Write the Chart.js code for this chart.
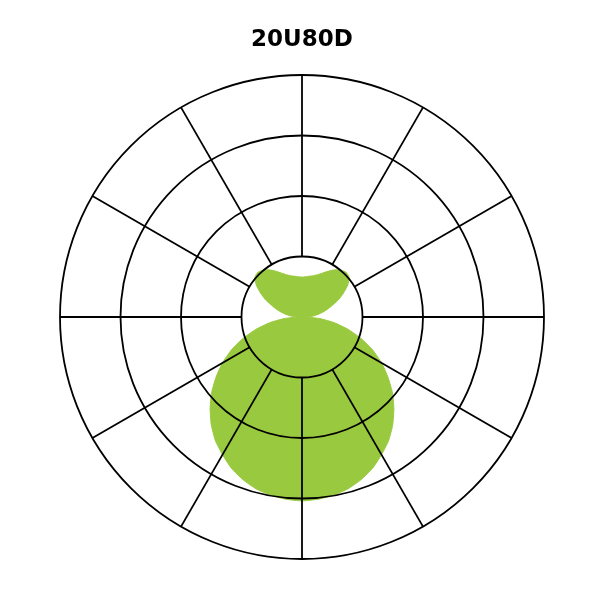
<!DOCTYPE html>
<html>
<head>
<meta charset="utf-8">
<script src="https://cdn.jsdelivr.net/npm/chart.js@4/dist/chart.umd.min.js"></script>
<style>
    html, body { margin: 0; padding: 0; background: #fff; }
    #grafico { width: 601px; height: 601px; }
</style>
</head>
<body>
<div id="grafico"><canvas id="polar"></canvas></div>
<script>
// angulos a cada 5 graus, 0 = para baixo
var angulos = [
    0, 5, 10, 15, 20, 25, 30, 35, 40, 45, 50, 55, 60, 65, 70, 75, 80, 85,
    90, 95, 100, 105, 110, 115, 120, 125, 130, 135, 140, 145, 150, 155, 160, 165, 170, 175,
    180, 185, 190, 195, 200, 205, 210, 215, 220, 225, 230, 235, 240, 245, 250, 255, 260, 265,
    270, 275, 280, 285, 290, 295, 300, 305, 310, 315, 320, 325, 330, 335, 340, 345, 350, 355
];
var intensidade = [
    76, 75.6, 74.8, 73.5, 71.5, 69, 65.7, 62.4, 58.3, 53.7, 48.8, 43.4, 38, 32.2, 26, 19.8, 13.6, 7.4,
    2.5, 4.8, 7.2, 9.9, 12.8, 16.5, 19.8, 23.1, 25.4, 26, 25.2, 23.8, 21.9, 20, 18.6, 17.6, 17.1, 16.7,
    16.5, 16.7, 17.1, 17.6, 18.6, 20, 21.9, 23.8, 25.2, 26, 25.4, 23.1, 19.8, 16.5, 12.8, 9.9, 7.2, 4.8,
    2.5, 7.4, 13.6, 19.8, 26, 32.2, 38, 43.4, 48.8, 53.7, 58.3, 62.4, 65.7, 69, 71.5, 73.5, 74.8, 75.6
];
var aneis = [25, 50, 75, 100];
var titulo = '20U80D';

/* raios desenhados so do primeiro anel ate o de fora, a cada 30 graus */
var raios = {
    id: 'raios',
    afterDatasetsDraw: function(chart){
        var r = chart.scales.r;
        var ctx = chart.ctx;
        var dentro = r.getDistanceFromCenterForValue(aneis[0]);
        var fora = r.getDistanceFromCenterForValue(aneis[aneis.length - 1]);
        ctx.save();
        ctx.strokeStyle = '#000';
        ctx.lineWidth = 1.8;
        for(var i = 0; i < angulos.length; i++){
            if(angulos[i] % 30 != 0) continue;
            var a = r.getPointPosition(i, dentro);
            var b = r.getPointPosition(i, fora);
            ctx.beginPath();
            ctx.moveTo(a.x, a.y);
            ctx.lineTo(b.x, b.y);
            ctx.stroke();
        }
        ctx.restore();
    }
};

const ctx = document.getElementById('polar');

new Chart(ctx, {
    type: 'radar',
    data: {
        labels: angulos.map(function(a){ return a + '°'; }),
        datasets: [
        {
            label: titulo,
            data: intensidade,
            backgroundColor: '#98c93e',
            borderColor: '#98c93e',
            borderWidth: 1,
            pointRadius: 0,
            tension: 0.15,
            fill: true
        }
    ]
    },
    options: {
        responsive: true,
        maintainAspectRatio: false,
        animation: false,
        layout: {
            padding: { top: 16, bottom: 30, left: 60, right: 57 }
        },
        plugins: {
            legend: { display: false },
            tooltip: { enabled: false },
            title: {
                display: true,
                text: titulo,
                color: '#000',
                font: { family: "'DejaVu Sans', sans-serif", size: 23, weight: 'bold' },
                padding: { top: 10, bottom: 10 }
            }
        },
        scales: {
            r: {
                min: 0,
                max: aneis[aneis.length - 1],
                startAngle: 180,
                ticks: { display: false, stepSize: aneis[0] },
                pointLabels: { display: false },
                angleLines: { display: false },
                grid: { circular: true, color: '#000', lineWidth: 1.8, z: 1 }
            }
        }
    },
    plugins: [raios]
});
</script>
</body>
</html>
